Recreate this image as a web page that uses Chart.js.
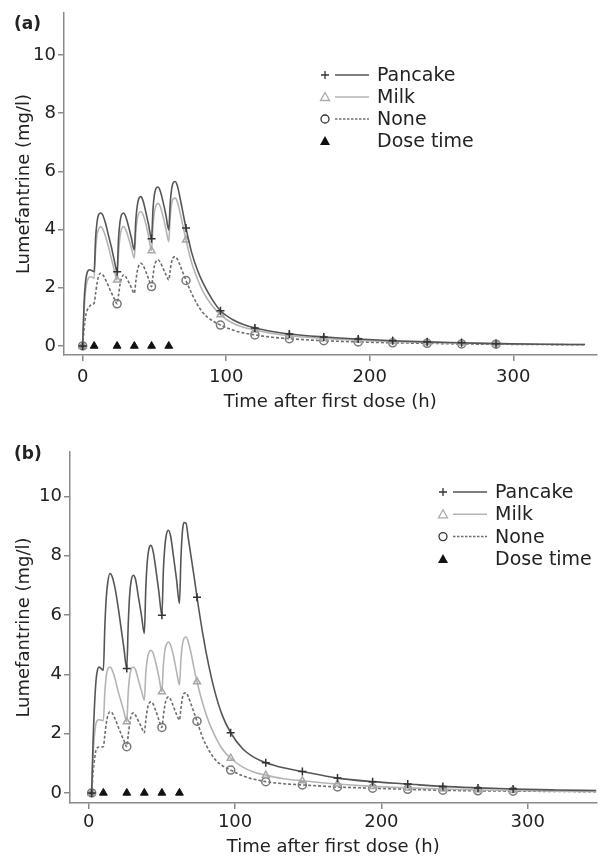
<!DOCTYPE html>
<html>
<head>
<meta charset="utf-8">
<script src="https://cdn.jsdelivr.net/npm/chart.js@4/dist/chart.umd.min.js"></script>
<style>
html,body{margin:0;padding:0;background:#fff;}
#wa{position:absolute;left:0;top:0;}
#wb{position:absolute;left:0;top:420px;}
</style>
</head>
<body>
<div id="wa"><canvas id="ca" width="602" height="420"></canvas></div>
<div id="wb"><canvas id="cb" width="602" height="438"></canvas></div>
<script>
// ---------- Panel (a) ----------
const timesA = [0,1,2,3,4,5,6,8,
  9,10,11,12.5,14,16,18,20,22,24,
  25,26,27,28.5,30,32,34,36,
  37,38,39,40.5,42,44,46,48,
  49,50,51,52.5,54,56,58,60,
  61,62,63,64.5,66,68,70,72,
  76,80,84,90,96,104,112,120,132,144,168,192,216,240,264,288,320,350];
const pancakeA = [0,1.5,2.2,2.5,2.6,2.62,2.6,2.55,
  3.7,4.25,4.5,4.57,4.5,4.2,3.8,3.4,2.95,2.55,
  3.7,4.25,4.5,4.57,4.45,4.1,3.7,3.3,
  4.3,4.8,5.05,5.13,5.0,4.6,4.15,3.68,
  4.7,5.2,5.4,5.46,5.33,4.95,4.5,3.99,
  4.9,5.4,5.6,5.65,5.5,5.05,4.55,4.05,
  3.2,2.6,2.15,1.62,1.21,0.92,0.74,0.62,0.5,0.41,0.31,0.24,0.18,0.14,0.11,0.08,0.06,0.05];
const milkA = [0,1.2,1.9,2.2,2.33,2.38,2.37,2.33,
  3.3,3.8,4.0,4.1,4.02,3.75,3.4,3.0,2.62,2.27,
  3.2,3.75,4.0,4.1,4.0,3.7,3.35,3.02,
  3.9,4.35,4.55,4.62,4.52,4.2,3.75,3.27,
  4.15,4.6,4.82,4.9,4.8,4.45,4.02,3.58,
  4.45,4.9,5.05,5.08,4.95,4.55,4.1,3.64,
  2.85,2.3,1.85,1.4,1.07,0.8,0.64,0.55,0.43,0.35,0.26,0.2,0.15,0.12,0.1,0.08,0.06,0.05];
const noneA = [0,0.6,1.0,1.2,1.32,1.37,1.42,1.47,
  1.8,2.15,2.38,2.5,2.45,2.27,2.05,1.83,1.63,1.45,
  1.75,2.1,2.32,2.44,2.38,2.2,2.0,1.81,
  2.2,2.55,2.75,2.84,2.78,2.55,2.3,2.04,
  2.4,2.75,2.9,2.96,2.88,2.67,2.45,2.27,
  2.6,2.9,3.03,3.07,2.98,2.75,2.5,2.25,
  1.8,1.42,1.13,0.88,0.72,0.56,0.45,0.38,0.3,0.25,0.18,0.14,0.11,0.09,0.07,0.06,0.05,0.04];
const markerTimesA = [0,24,48,72,96,120,144,168,192,216,240,264,288];
const doseTimesA = [0,8,24,36,48,60];

// ---------- Panel (b) ----------
const timesB = [2,3,4,5,6,7,8,10,
  11,12,13,14.5,16,18,20,22,24,26,
  27,28,29,30.5,32,34,36,38,
  39,40,41,42.5,44,46,48,50,
  51,52,53,54.5,56,58,60,62,
  63,64,65,66.5,68,70,72,74,
  78,82,86,91,97,105,113,121,133,146,170,194,218,242,266,290,320,347];
const pancakeB = [0,1.8,3.0,3.8,4.15,4.25,4.22,4.14,
  5.6,6.6,7.1,7.4,7.3,6.9,6.3,5.6,4.9,4.2,
  5.7,6.7,7.15,7.34,7.2,6.6,6.0,5.38,
  6.9,7.8,8.2,8.35,8.15,7.5,6.75,5.99,
  7.5,8.3,8.7,8.86,8.65,7.95,7.2,6.39,
  7.9,8.8,9.12,9.1,8.6,7.95,7.3,6.6,
  5.35,4.3,3.45,2.65,2.03,1.5,1.2,1.02,0.85,0.72,0.5,0.38,0.3,0.22,0.17,0.13,0.1,0.08];
const milkB = [0,1.3,2.0,2.35,2.45,2.47,2.46,2.44,
  3.4,3.95,4.18,4.25,4.15,3.85,3.45,3.1,2.75,2.4,
  3.4,3.95,4.17,4.25,4.15,3.8,3.45,3.13,
  4.05,4.5,4.72,4.81,4.72,4.35,3.9,3.41,
  4.3,4.8,5.0,5.09,4.98,4.6,4.1,3.64,
  4.5,5.0,5.2,5.26,5.1,4.7,4.2,3.75,
  3.0,2.4,1.95,1.5,1.17,0.88,0.7,0.6,0.48,0.41,0.3,0.22,0.17,0.13,0.1,0.08,0.06,0.05];
const noneB = [0,0.7,1.15,1.45,1.53,1.55,1.55,1.56,
  1.95,2.35,2.6,2.74,2.7,2.5,2.25,2.0,1.77,1.56,
  1.95,2.35,2.6,2.7,2.62,2.42,2.22,2.03,
  2.45,2.8,3.0,3.07,3.0,2.75,2.45,2.21,
  2.6,2.95,3.15,3.24,3.15,2.9,2.65,2.46,
  2.85,3.2,3.35,3.38,3.25,2.98,2.7,2.42,
  1.85,1.45,1.15,0.93,0.77,0.58,0.46,0.38,0.31,0.27,0.2,0.16,0.12,0.09,0.07,0.06,0.05,0.04];
const markerTimesB = [2,26,50,74,97,121,146,170,194,218,242,266,290];
const doseTimesB = [2,10,26,38,50,62];

// ---------- shared labels ----------
const xTickValues = [0,100,200,300];
const yTickValues = [0,2,4,6,8,10];
const seriesNames = ['Pancake','Milk','None','Dose time'];
const xTitle = 'Time after first dose (h)';
const yTitle = 'Lumefantrine (mg/l)';

const FONT = 'DejaVu Sans';
const AXIS_COLOR = '#8a8a8a';
const TEXT_COLOR = '#222';
const C_PAN = '#555555', C_MILK = '#b4b4b4', C_NONE = '#6e6e6e';

function pts(times, vals){ return times.map((t,i)=>({x:t,y:vals[i]})); }

function lineDS(times, vals, markers, color, style, dash, markerColor){
  return {
    type:'line',
    data: pts(times, vals),
    borderColor: color,
    borderWidth: 1.6,
    borderDash: dash,
    cubicInterpolationMode: 'monotone',
    pointStyle: style,
    pointRadius: c => (c.raw && markers.includes(c.raw.x)) ? 4 : 0,
    pointBorderColor: markerColor,
    pointBackgroundColor: 'rgba(255,255,255,0)',
    pointBorderWidth: 1.5,
    fill:false
  };
}

const legendPlugin = {
  id:'customLegend',
  afterDraw(chart){
    const o = chart.options.plugins.customLegend;
    const ctx = chart.ctx;
    ctx.save();
    // panel label
    ctx.font = 'bold 17px "'+FONT+'"';
    ctx.fillStyle = TEXT_COLOR;
    ctx.textBaseline = 'middle';
    ctx.textAlign = 'left';
    ctx.fillText(o.panel, 14, o.panelY);
    const sx = o.x, lx0 = o.x + 10, lx1 = o.x + 44, tx = o.x + 52;
    const rows = [
      {line:C_PAN, dash:[], mk:'plus', mc:'#333'},
      {line:C_MILK, dash:[], mk:'tri', mc:'#aaa'},
      {line:C_NONE, dash:[2.5,1.5], mk:'circ', mc:'#333'},
      {line:null, dash:[], mk:'ftri', mc:'#111'}
    ];
    rows.forEach((r,i)=>{
      const y = o.y + i*o.dy;
      if(r.line){
        ctx.beginPath();
        ctx.setLineDash(r.dash);
        ctx.strokeStyle = r.line;
        ctx.lineWidth = 1.5;
        ctx.moveTo(lx0, y); ctx.lineTo(lx1, y);
        ctx.stroke();
        ctx.setLineDash([]);
      }
      ctx.strokeStyle = r.mc; ctx.fillStyle = r.mc; ctx.lineWidth = 1.3;
      ctx.beginPath();
      if(r.mk==='plus'){
        ctx.moveTo(sx-4,y); ctx.lineTo(sx+4,y); ctx.moveTo(sx,y-4); ctx.lineTo(sx,y+4); ctx.stroke();
      } else if(r.mk==='tri'){
        ctx.moveTo(sx,y-4.5); ctx.lineTo(sx+4.5,y+3.5); ctx.lineTo(sx-4.5,y+3.5); ctx.closePath(); ctx.stroke();
      } else if(r.mk==='circ'){
        ctx.arc(sx,y,4,0,Math.PI*2); ctx.stroke();
      } else {
        ctx.moveTo(sx,y-5); ctx.lineTo(sx+5,y+4); ctx.lineTo(sx-5,y+4); ctx.closePath(); ctx.fill();
      }
      ctx.font = '19px "'+FONT+'"';
      ctx.fillStyle = TEXT_COLOR;
      ctx.textBaseline = 'middle';
      ctx.fillText(seriesNames[i], tx, y+1);
    });
    ctx.restore();
  }
};

function makeChart(id, times, pan, milk, none, markers, doses, cfg){
  return new Chart(document.getElementById(id), {
    type:'line',
    data:{
      datasets:[
        lineDS(times, pan, markers, C_PAN, 'cross', [], '#333'),
        lineDS(times, milk, markers, C_MILK, 'triangle', [], '#a8a8a8'),
        lineDS(times, none, markers, C_NONE, 'circle', [3,2], '#777'),
        {
          type:'scatter',
          data: doses.map(t=>({x:t,y:0})),
          pointStyle:'triangle',
          pointRadius:4.5,
          pointBackgroundColor:'#111',
          pointBorderColor:'#111',
          showLine:false
        }
      ]
    },
    options:{
      responsive:false,
      animation:false,
      events:[],
      layout:{padding:{top:cfg.top,right:0,left:0,bottom:0}},
      plugins:{
        legend:{display:false},
        tooltip:{enabled:false},
        customLegend: cfg.legend
      },
      scales:{
        x:{
          type:'linear',
          min:cfg.xmin, max:cfg.xmax,
          afterBuildTicks: s => { s.ticks = xTickValues.map(v=>({value:v})); },
          afterFit: s => { s.height = cfg.xh; },
          grid:{drawOnChartArea:false, drawTicks:true, tickLength:6, color:AXIS_COLOR, lineWidth:1.5},
          border:{display:true, color:AXIS_COLOR, width:1.5},
          ticks:{font:{family:FONT,size:18}, color:TEXT_COLOR, padding:cfg.xpad, maxRotation:0},
          title:{display:true, text:xTitle, font:{family:FONT,size:18}, color:TEXT_COLOR, padding:{top:0,bottom:cfg.xtpad}}
        },
        y:{
          type:'linear',
          min:cfg.ymin, max:cfg.ymax,
          afterBuildTicks: s => { s.ticks = yTickValues.map(v=>({value:v})); },
          afterFit: s => { s.width = cfg.yw; },
          grid:{drawOnChartArea:false, drawTicks:true, tickLength:6, color:AXIS_COLOR, lineWidth:1.5},
          border:{display:true, color:AXIS_COLOR, width:1.5},
          ticks:{font:{family:FONT,size:18}, color:TEXT_COLOR, padding:2},
          title:{display:true, text:yTitle, font:{family:FONT,size:18}, color:TEXT_COLOR, padding:{top:cfg.ytpad,bottom:0}}
        }
      }
    },
    plugins:[legendPlugin]
  });
}

makeChart('ca', timesA, pancakeA, milkA, noneA, markerTimesA, doseTimesA, {
  top:13, xmin:-13, xmax:358, ymin:-0.31, ymax:11.44, xh:65, yw:64, xpad:6, xtpad:7, ytpad:14,
  legend:{panel:'(a)', panelY:25, x:325, y:75, dy:22}
});
makeChart('cb', timesB, pancakeB, milkB, noneB, markerTimesB, doseTimesB, {
  top:32, xmin:-12.8, xmax:347, ymin:-0.34, ymax:11.5, xh:55, yw:70, xpad:3, xtpad:0, ytpad:14,
  legend:{panel:'(b)', panelY:35, x:443, y:72, dy:22.3}
});
</script>
</body>
</html>
